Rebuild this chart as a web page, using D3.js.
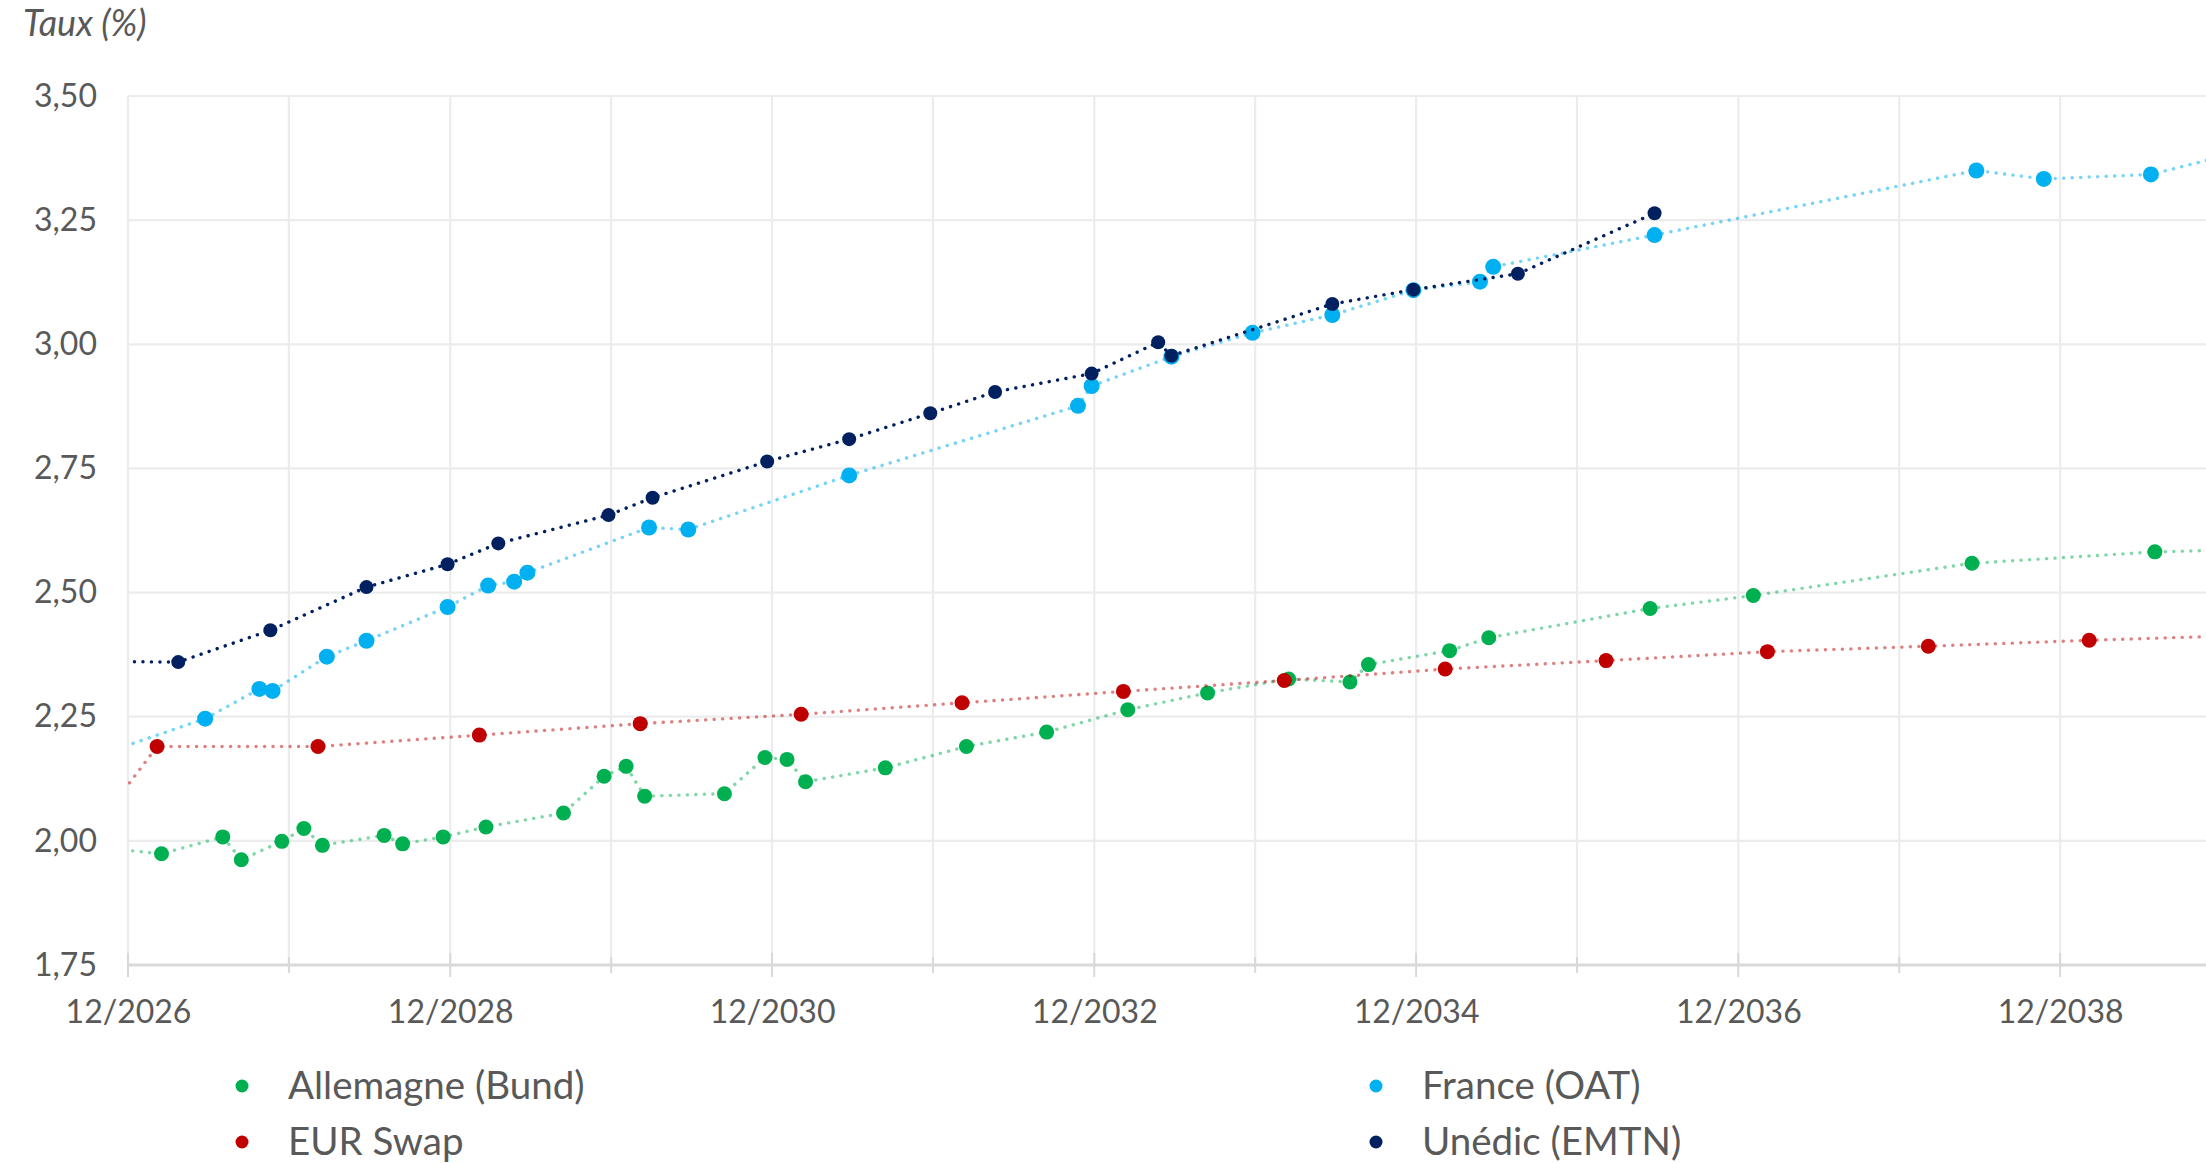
<!DOCTYPE html>
<html>
<head>
<meta charset="utf-8">
<script src="https://cdn.jsdelivr.net/npm/d3@7"></script>
<style>
body { margin: 0; background: #fff; }
svg { display: block; font-family: Lato, "Open Sans", sans-serif; }
</style>
</head>
<body>
<div id="chart"></div>
<script>
// curve data : maturity dates and yields (%)
var bundMaturities = ["2026-10-15", "2027-02-15", "2027-07-04", "2027-08-15", "2027-11-15", "2028-01-04", "2028-02-15",
	"2028-07-04", "2028-08-15", "2028-11-15", "2029-02-20", "2029-08-15", "2029-11-15", "2030-01-04", "2030-02-15",
	"2030-08-15", "2030-11-15", "2031-01-04", "2031-02-15", "2031-08-15", "2032-02-15", "2032-08-15", "2033-02-15",
	"2033-08-15", "2034-02-15", "2034-07-04", "2034-08-15", "2035-02-15", "2035-05-15", "2036-05-15", "2037-01-04",
	"2038-05-15", "2039-07-04", "2040-08-15"];
var bundRates = [1.985, 1.974, 2.008, 1.962, 1.999, 2.025, 1.991,
	2.011, 1.994, 2.008, 2.028, 2.056, 2.130, 2.150, 2.090,
	2.095, 2.168, 2.164, 2.119, 2.147, 2.190, 2.219, 2.264,
	2.298, 2.326, 2.320, 2.355, 2.383, 2.409, 2.468, 2.494,
	2.559, 2.582, 2.591];

var oatMaturities = ["2026-08-25", "2027-05-25", "2027-09-25", "2027-10-25", "2028-02-25", "2028-05-25", "2028-11-25",
	"2029-02-25", "2029-04-25", "2029-05-25", "2030-02-25", "2030-05-25", "2031-05-25", "2032-10-25", "2032-11-25",
	"2033-05-25", "2033-11-25", "2034-05-25", "2034-11-25", "2035-04-25", "2035-05-25", "2036-05-25", "2038-05-25",
	"2038-10-25", "2039-06-25", "2040-05-25"];
var oatRates = [2.163, 2.246, 2.306, 2.302, 2.371, 2.403, 2.471,
	2.514, 2.522, 2.540, 2.631, 2.627, 2.736, 2.876, 2.916,
	2.975, 3.023, 3.059, 3.109, 3.126, 3.156, 3.220, 3.350,
	3.333, 3.342, 3.417];

var swapMaturities = ["2026-02-05", "2027-02-05", "2028-02-05", "2029-02-05", "2030-02-05", "2031-02-05", "2032-02-05",
	"2033-02-05", "2034-02-05", "2035-02-05", "2036-02-05", "2037-02-05", "2038-02-05", "2039-02-05", "2040-02-05"];
var swapRates = [1.762, 2.190, 2.190, 2.213, 2.236, 2.255, 2.278,
	2.301, 2.323, 2.346, 2.363, 2.381, 2.392, 2.404, 2.414];

var unedicMaturities = ["2026-06-25", "2027-03-25", "2027-10-20", "2028-05-25", "2028-11-25", "2029-03-20", "2029-11-25",
	"2030-03-05", "2030-11-20", "2031-05-25", "2031-11-25", "2032-04-20", "2032-11-25", "2033-04-25", "2033-05-25",
	"2034-05-25", "2034-11-25", "2035-07-20", "2036-05-25"];
var unedicRates = [2.362, 2.360, 2.424, 2.511, 2.557, 2.599, 2.656,
	2.691, 2.764, 2.809, 2.861, 2.904, 2.941, 3.004, 2.977,
	3.081, 3.110, 3.142, 3.264];

var seriesNames = ["Allemagne (Bund)", "France (OAT)", "EUR Swap", "Unédic (EMTN)"];
var yTickValues = [1.75, 2.00, 2.25, 2.50, 2.75, 3.00, 3.25, 3.50];
var xTickYears = [2026, 2027, 2028, 2029, 2030, 2031, 2032, 2033, 2034, 2035, 2036, 2037, 2038, 2039];
var xLabelYears = [2026, 2028, 2030, 2032, 2034, 2036, 2038];
var yTitle = "Taux (%)";

var width = 2206, height = 1163;
var margin = {left: 128, top: 96, bottom: 965};
var textColor = "#595959";

var parse = d3.utcParse("%Y-%m-%d");
var dec = function (y) { return new Date(Date.UTC(y, 11, 1)); };
var fr = d3.formatLocale({decimal: ",", thousands: " ", grouping: [3], currency: ["", " €"]});
var fmtRate = fr.format(".2f");

// x axis : one year = 161px, starts on 12/2026
var x = d3.scaleUtc()
	.domain([dec(2026), dec(2039)])
	.range([margin.left, margin.left + 161 * 13]);
var y = d3.scaleLinear()
	.domain([1.75, 3.5])
	.range([margin.bottom, margin.top]);

var series = [
	{name: seriesNames[0], dates: bundMaturities, rates: bundRates, color: "#00B050", lineOpacity: 0.5, r: 7.5},
	{name: seriesNames[1], dates: oatMaturities, rates: oatRates, color: "#00B0F0", lineOpacity: 0.55, r: 8},
	{name: seriesNames[2], dates: swapMaturities, rates: swapRates, color: "#C00000", lineOpacity: 0.5, r: 7.5},
	{name: seriesNames[3], dates: unedicMaturities, rates: unedicRates, color: "#002060", lineOpacity: 1, r: 7}
];
series.forEach(function (s) {
	s.points = s.dates.map(function (d, i) { return {date: parse(d), rate: s.rates[i]}; });
});

var svg = d3.select("#chart").append("svg")
	.attr("width", width)
	.attr("height", height);

svg.append("rect").attr("width", width).attr("height", height).attr("fill", "#fff");

svg.append("clipPath").attr("id", "plot-clip")
	.append("rect")
	.attr("x", margin.left).attr("y", 0)
	.attr("width", width - margin.left).attr("height", height);

// gridlines
var grid = svg.append("g");
grid.selectAll(".hgrid")
	.data(yTickValues.slice(1))
	.enter().append("line")
	.attr("x1", margin.left).attr("x2", width)
	.attr("y1", function (d) { return y(d); })
	.attr("y2", function (d) { return y(d); })
	.attr("stroke", "#ececec")
	.attr("stroke-width", 2.2);

grid.selectAll(".vgrid")
	.data(xTickYears)
	.enter().append("line")
	.attr("x1", function (d) { return x(dec(d)); })
	.attr("x2", function (d) { return x(dec(d)); })
	.attr("y1", y(3.5)).attr("y2", y(1.75))
	.attr("stroke", "#ececec")
	.attr("stroke-width", 2.2);

// bottom axis line + ticks
var axisG = svg.append("g")
	.attr("transform", "translate(0," + y(1.75) + ")");
axisG.append("line")
	.attr("x1", margin.left).attr("x2", width)
	.attr("stroke", "#d9d9d9")
	.attr("stroke-width", 3);
axisG.selectAll(".tick")
	.data(xTickYears)
	.enter().append("line")
	.attr("x1", function (d) { return x(dec(d)); })
	.attr("x2", function (d) { return x(dec(d)); })
	.attr("y1", function (d) { return d % 2 === 0 ? -12 : -8; })
	.attr("y2", function (d) { return d % 2 === 0 ? 12 : 8; })
	.attr("stroke", "#d9d9d9")
	.attr("stroke-width", 2);

var xAxis = d3.axisBottom(x)
	.tickValues(xLabelYears.map(dec))
	.tickSize(0)
	.tickPadding(0)
	.tickFormat(d3.utcFormat("%m/%Y"));
var xAxisG = svg.append("g")
	.attr("transform", "translate(0," + (y(1.75) + 58) + ")")
	.call(xAxis);
xAxisG.select(".domain").remove();
xAxisG.selectAll("text")
	.attr("dy", 0)
	.attr("font-size", 32)
	.attr("font-family", "Lato, sans-serif")
	.attr("fill", textColor);

var yAxis = d3.axisLeft(y)
	.tickValues(yTickValues)
	.tickSize(0)
	.tickPadding(0)
	.tickFormat(fmtRate);
var yAxisG = svg.append("g")
	.attr("transform", "translate(97,0)")
	.call(yAxis);
yAxisG.select(".domain").remove();
yAxisG.selectAll("text")
	.attr("font-size", 32)
	.attr("font-family", "Lato, sans-serif")
	.attr("fill", textColor);

svg.append("text")
	.attr("x", 23).attr("y", 36)
	.attr("font-size", 36)
	.attr("font-style", "italic")
	.attr("fill", textColor)
	.text(yTitle);

// curves
var line = d3.line()
	.x(function (d) { return x(d.date); })
	.y(function (d) { return y(d.rate); });

var plot = svg.append("g").attr("clip-path", "url(#plot-clip)");
series.forEach(function (s) {
	var g = plot.append("g");
	g.append("path")
		.datum(s.points)
		.attr("d", line)
		.attr("fill", "none")
		.attr("stroke", s.color)
		.attr("stroke-opacity", s.lineOpacity)
		.attr("stroke-width", 3.4)
		.attr("stroke-linecap", "round")
		.attr("stroke-dasharray", "0.1 8.4");
	g.selectAll("circle")
		.data(s.points)
		.enter().append("circle")
		.attr("cx", function (d) { return x(d.date); })
		.attr("cy", function (d) { return y(d.rate); })
		.attr("r", s.r)
		.attr("fill", s.color);
});

// legend (2 columns)
var legendPos = [[242, 1086], [1376, 1086], [242, 1142], [1376, 1142]];
var legend = svg.append("g");
series.forEach(function (s, i) {
	var item = legend.append("g")
		.attr("transform", "translate(" + legendPos[i][0] + "," + legendPos[i][1] + ")");
	item.append("circle").attr("r", 6.5).attr("fill", s.color);
	item.append("text")
		.attr("x", 46).attr("dy", "0.35em")
		.attr("font-size", 38.5)
		.attr("fill", textColor)
		.text(s.name);
});
</script>
</body>
</html>
